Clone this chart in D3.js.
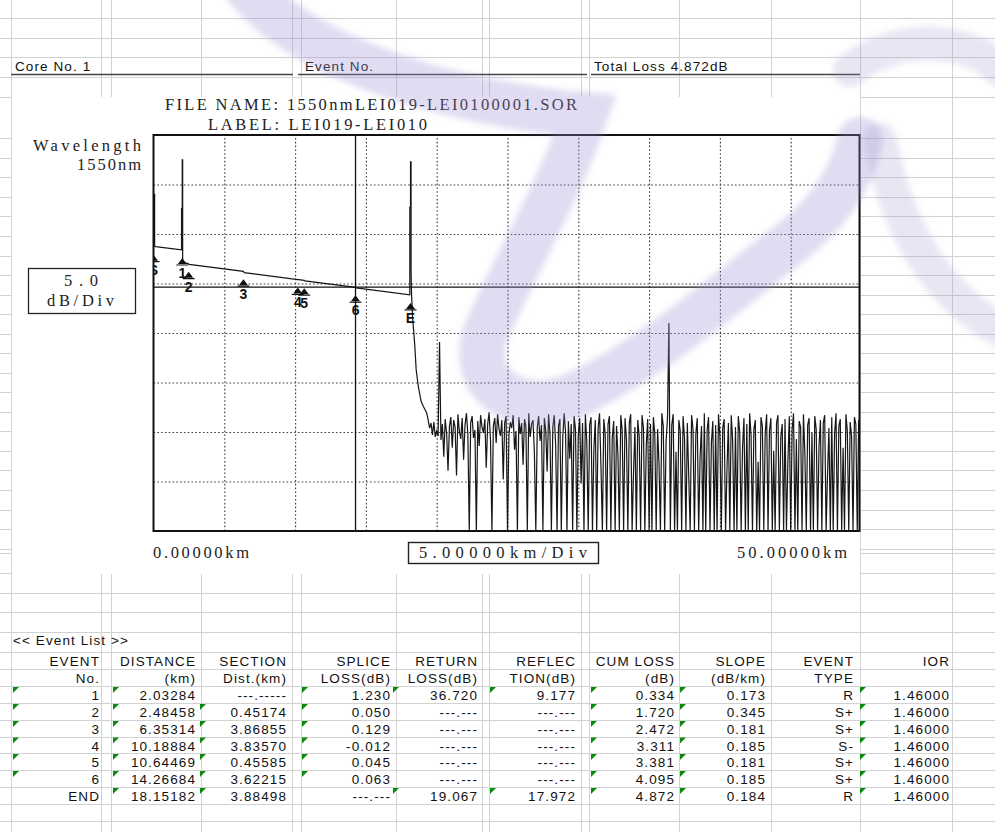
<!DOCTYPE html>
<html><head><meta charset="utf-8">
<script src="https://cdn.jsdelivr.net/npm/d3@7"></script>
<style>
html,body{margin:0;padding:0;background:#fff;}
svg{display:block;}
</style></head><body>
<svg id="sheet" width="995" height="832"></svg>
<script>
// ---------- header ----------
const coreNo = "Core No. 1";
const eventNoTitle = "Event No.";
const totalLoss = "Total Loss 4.872dB";
const fileName = "FILE NAME: 1550nmLEI019-LEI0100001.SOR";
const labelText = "LABEL: LEI019-LEI010";
const wavelengthLines = ["Wavelength", "1550nm"];
const dbPerDivLines = ["5.0", "dB/Div"];
const xAxisTexts = ["0.00000km", "5.00000km/Div", "50.00000km"];

// ---------- trace scales ----------
const kmDomain = [0, 50];
const kmTicks = [5, 10, 15, 20, 25, 30, 35, 40, 45, 50];
const dbDomain = [0, 40];
const dbTicks = [5, 10, 15, 20, 25, 30, 35];

// ---------- OTDR trace over the fibre (km, relative level dB) ----------
const fiberKm = [0, 0, 0.08, 0.08, 0.15, 1.0, 1.98, 1.98, 2.03, 2.03, 2.06, 2.06, 2.48, 2.52,
  6.35, 6.40, 10.19, 10.24, 10.64, 10.69, 14.27, 14.32, 18.10, 18.10, 18.15, 18.15, 18.19, 18.19,
  18.22, 18.30, 18.45, 18.55, 18.70, 18.90, 19.05, 19.20];
const fiberDb = [28.72, 34.0, 34.0, 28.75, 28.72, 28.57, 28.39, 32.6, 32.6, 37.5, 37.5, 27.16, 26.98, 26.93,
  26.23, 26.10, 25.39, 25.40, 25.32, 25.27, 24.61, 24.55, 23.85, 32.7, 32.7, 37.3, 37.3, 26.4,
  24.0, 21.5, 18.8, 16.3, 14.6, 13.1, 12.6, 12.2];

// ---------- noise floor past the fibre end, one reading every 0.1 km ----------
const noiseStartKm = 19.3;
const noiseStepKm = 0.1;
const noiseDb = [
  11.9, 11.2, 10.4, 10.9, 9.7, 11.0, 9.5, 10.1, 9.6, 19.1,
  9.2, 10.8, 7.5, 11.3, 9.9, 6.1, 10.6, 11.5, 8.4, 11.2,
  10.5, 5.6, 11.8, 10.1, 9.3, 11.4, 7.2, 10.7, 11.9, 9.8,
  0, 10.9, 11.6, 9.4, 10.2, 0, 11.1, 8.6, 11.7, 10.5,
  9.9, 11.3, 6.4, 10.8, 12.0, 9.2, 0, 10.6, 11.4, 8.9,
  11.8, 10.3, 9.6, 11.2, 5.2, 10.9, 11.6, 0, 9.7, 11.0,
  10.4, 11.7, 8.2, 10.1, 0, 11.5, 9.8, 10.9, 6.7, 11.3,
  10.6, 0, 11.9, 9.5, 10.8, 11.2, 7.9, 0, 10.4, 11.6,
  9.1, 10.7, 0, 11.4, 10.2, 6.0, 11.8, 9.9, 0, 10.5,
  11.7, 8.8, 0, 10.6, 11.3, 0, 9.4, 11.9, 10.0, 0,
  11.1, 7.3, 10.8, 0, 11.6, 10.3, 0, 9.7, 11.4, 4.8,
  10.9, 0, 11.8, 9.0, 0, 10.7, 11.5, 0, 8.3, 11.2,
  0, 10.4, 11.9, 6.6, 0, 11.3, 9.8, 0, 10.8, 11.6,
  0, 9.5, 11.1, 0, 10.6, 7.7, 0, 11.7, 10.2, 0,
  11.4, 9.3, 0, 10.9, 11.8, 0, 5.9, 10.5, 0, 11.2,
  9.6, 0, 11.7, 10.4, 0, 8.7, 11.3, 0, 10.8, 0,
  11.5, 9.9, 0, 10.3, 6.8, 0, 11.9, 10.6, 0, 9.1,
  11.4, 21.0, 0, 10.7, 11.8, 0, 8.0, 0, 11.2, 10.1,
  0, 11.6, 9.4, 0, 10.9, 5.5, 0, 11.7, 10.3, 0,
  9.8, 11.4, 0, 7.4, 10.6, 0, 11.9, 0, 10.2, 11.5,
  0, 8.9, 11.1, 0, 10.7, 0, 11.8, 9.6, 0, 10.4,
  11.3, 0, 6.3, 10.9, 0, 11.7, 9.2, 0, 10.5, 0,
  11.6, 10.0, 0, 8.5, 11.4, 0, 10.8, 0, 11.9, 9.7,
  0, 10.3, 11.2, 0, 7.0, 0, 11.5, 10.6, 0, 9.9,
  11.8, 0, 10.1, 11.4, 0, 8.1, 0, 10.9, 11.7, 0,
  9.5, 10.8, 0, 11.3, 0, 6.9, 11.6, 0, 10.2, 11.9,
  0, 9.3, 0, 11.1, 10.5, 0, 11.8, 7.8, 0, 10.7,
  11.4, 0, 9.9, 0, 11.6, 10.3, 0, 8.6, 11.2, 0,
  10.9, 11.7, 0, 5.7, 10.4, 0, 11.5, 0, 9.8, 11.9,
  0, 10.6, 11.3, 0, 8.4, 0, 11.8, 10.1, 0, 11.0,
  9.6, 0, 11.5, 10.8, 0, 11.2
];

// ---------- event list ----------
const eventNo     = ["1", "2", "3", "4", "5", "6", "END"];
const distanceKm  = ["2.03284", "2.48458", "6.35314", "10.18884", "10.64469", "14.26684", "18.15182"];
const sectionKm   = ["---.-----", "0.45174", "3.86855", "3.83570", "0.45585", "3.62215", "3.88498"];
const spliceLoss  = ["1.230", "0.050", "0.129", "-0.012", "0.045", "0.063", "---.---"];
const returnLoss  = ["36.720", "---.---", "---.---", "---.---", "---.---", "---.---", "19.067"];
const reflection  = ["9.177", "---.---", "---.---", "---.---", "---.---", "---.---", "17.972"];
const cumLoss     = ["0.334", "1.720", "2.472", "3.311", "3.381", "4.095", "4.872"];
const slope       = ["0.173", "0.345", "0.181", "0.185", "0.181", "0.185", "0.184"];
const eventType   = ["R", "S+", "S+", "S-", "S+", "S+", "R"];
const ior         = ["1.46000", "1.46000", "1.46000", "1.46000", "1.46000", "1.46000", "1.46000"];
const headerTop    = ["EVENT", "DISTANCE", "SECTION", "SPLICE", "RETURN", "REFLEC", "CUM LOSS", "SLOPE", "EVENT", "IOR"];
const headerBottom = ["No.", "(km)", "Dist.(km)", "LOSS(dB)", "LOSS(dB)", "TION(dB)", "(dB)", "(dB/km)", "TYPE", ""];
const eventListTitle = "<< Event List >>";
// cells carrying the spreadsheet's green "number stored as text" flag, per row
const flaggedCells = [
  [0, 1, 3, 4, 5, 6, 7, 9],
  [0, 1, 2, 3, 6, 7, 9],
  [0, 1, 2, 3, 6, 7, 9],
  [0, 1, 2, 3, 6, 7, 9],
  [0, 1, 2, 3, 6, 7, 9],
  [0, 1, 2, 3, 6, 7, 9],
  [1, 2, 4, 5, 6, 7, 9]
];
// trace markers: launch (S), numbered events and fibre end (E)
const markerLabels = ["S", "1", "2", "3", "4", "5", "6", "E"];
const launchLevelDb = 28.72;

// ======================================================================
const svg = d3.select("#sheet");
svg.append("rect").attr("width", 995).attr("height", 832).attr("fill", "#fff");

// ---------- spreadsheet cell grid ----------
const gridColor = "#d2d2d2";
const colLines = [11, 101, 111, 201, 292, 301, 396, 482, 489, 581, 589, 679, 771, 860, 952];
const rowLines = [18, 38, 57, 77, 97];
for (let y = 138.3; y < 560; y += 19.54) rowLines.push(y);
[553, 573, 593, 612, 632, 652, 669, 686, 703, 720, 736.5, 753, 770, 787, 804, 821].forEach(v => rowLines.push(v));
const sheetG = svg.append("g");
sheetG.selectAll("line.c").data(colLines).join("line")
  .attr("x1", d => d + 0.5).attr("x2", d => d + 0.5).attr("y1", 0).attr("y2", 832)
  .attr("stroke", gridColor).attr("stroke-width", 1);
sheetG.selectAll("line.r").data(rowLines).join("line")
  .attr("x1", 0).attr("x2", 995).attr("y1", d => Math.round(d) + 0.5).attr("y2", d => Math.round(d) + 0.5)
  .attr("stroke", gridColor).attr("stroke-width", 1);

// header underlines
const ul = svg.append("g").attr("stroke", "#444").attr("stroke-width", 1.4);
[[11, 293], [298, 587], [591, 860]].forEach(s =>
  ul.append("line").attr("x1", s[0]).attr("x2", s[1]).attr("y1", 74.5).attr("y2", 74.5));

const cellFont = "'Liberation Sans', Arial, sans-serif";
const hdr = svg.append("g").attr("font-family", cellFont).attr("font-size", 13.5)
  .attr("letter-spacing", 1.1).attr("fill", "#111");
hdr.append("text").attr("x", 15).attr("y", 71).text(coreNo);
hdr.append("text").attr("x", 305).attr("y", 71).text(eventNoTitle);
hdr.append("text").attr("x", 594).attr("y", 71).text(totalLoss);

// white picture area that hides the cell grid behind the trace report
svg.append("rect").attr("x", 12).attr("y", 97).attr("width", 848).attr("height", 477).attr("fill", "#fff");

// ---------- trace plot ----------
const plot = { left: 153.5, top: 135, width: 706, height: 396 };
const x = d3.scaleLinear().domain(kmDomain).range([plot.left, plot.left + 50 * 14.16]);
const y = d3.scaleLinear().domain(dbDomain).range([plot.top + plot.height, plot.top]);

const defs = svg.append("defs");
defs.append("clipPath").attr("id", "plotClip").append("rect")
  .attr("x", plot.left).attr("y", plot.top).attr("width", plot.width).attr("height", plot.height);
defs.append("filter").attr("id", "soft").append("feGaussianBlur").attr("stdDeviation", 3);

const chart = svg.append("g");
const inner = chart.append("g").attr("clip-path", "url(#plotClip)");

// dotted divisions
inner.append("g").attr("transform", `translate(0,${plot.top + plot.height})`)
  .call(d3.axisBottom(x).tickValues(kmTicks).tickSize(-plot.height).tickFormat(""))
  .call(g => g.select(".domain").remove())
  .call(g => g.selectAll(".tick line").attr("stroke", "#3a3a3a").attr("stroke-dasharray", "1.6,2.2").attr("stroke-width", 1.1));
inner.append("g").attr("transform", `translate(${plot.left},0)`)
  .call(d3.axisLeft(y).tickValues(dbTicks).tickSize(-plot.width).tickFormat(""))
  .call(g => g.select(".domain").remove())
  .call(g => g.selectAll(".tick line").attr("stroke", "#3a3a3a").attr("stroke-dasharray", "1.6,2.2").attr("stroke-width", 1.1));

// trace
const tracePts = fiberKm.map((k, i) => [k, fiberDb[i]])
  .concat(noiseDb.map((v, i) => [noiseStartKm + i * noiseStepKm, v]));
const line = d3.line().x(d => x(d[0])).y(d => y(Math.max(d[1], dbDomain[0])));
inner.append("path").datum(tracePts).attr("d", line)
  .attr("fill", "none").attr("stroke", "#161616").attr("stroke-width", 1.2).attr("stroke-linejoin", "miter");

// cursor on event 6
const cursorKm = +distanceKm[5];
const cursorDb = launchLevelDb - +cumLoss[5];
inner.append("line").attr("x1", x(cursorKm)).attr("x2", x(cursorKm)).attr("y1", plot.top).attr("y2", plot.top + plot.height)
  .attr("stroke", "#111").attr("stroke-width", 1.3);
inner.append("line").attr("x1", plot.left).attr("x2", plot.left + plot.width).attr("y1", y(cursorDb)).attr("y2", y(cursorDb))
  .attr("stroke", "#111").attr("stroke-width", 1.3);

// event markers
const markerKm = [0].concat(distanceKm.map(Number));
const markerDb = [launchLevelDb].concat(cumLoss.map(c => launchLevelDb - +c));
const mk = inner.selectAll("g.mk").data(markerLabels).join("g")
  .attr("transform", (d, i) => `translate(${x(markerKm[i])},${y(markerDb[i]) + 8})`);
mk.append("path").attr("d", "M0,0 L4.5,6 L-4.5,6 Z").attr("fill", "#111");
mk.append("line").attr("x1", -6).attr("x2", 6).attr("y1", 7).attr("y2", 7).attr("stroke", "#111").attr("stroke-width", 1.2);
mk.append("text").attr("y", 20).attr("text-anchor", "middle")
  .attr("font-family", "'Liberation Sans', Arial, sans-serif").attr("font-weight", "bold").attr("font-size", 14)
  .attr("fill", "#111").text(d => d);

// frame
chart.append("rect").attr("x", plot.left).attr("y", plot.top).attr("width", plot.width).attr("height", plot.height)
  .attr("fill", "none").attr("stroke", "#111").attr("stroke-width", 2);

// ---------- report texts ----------
svg.append("rect").attr("x", 28.5).attr("y", 268.5).attr("width", 107).attr("height", 45)
  .attr("fill", "#fff").attr("stroke", "#222").attr("stroke-width", 1.3);
svg.append("rect").attr("x", 408.5).attr("y", 542.5).attr("width", 190).attr("height", 21)
  .attr("fill", "#fff").attr("stroke", "#222").attr("stroke-width", 1.4);

const repFont = "'Liberation Serif', 'DejaVu Serif', serif";
const rep = svg.append("g").attr("font-family", repFont).attr("font-size", 16.5).attr("fill", "#222");
const fitText = (str, x0, yb, len) => rep.append("text").attr("x", x0).attr("y", yb)
  .attr("textLength", len).attr("lengthAdjust", "spacing").text(str);
fitText(fileName, 165, 110, 412);
fitText(labelText, 208, 130, 219);
fitText(wavelengthLines[0], 33, 151, 108);
fitText(wavelengthLines[1], 77, 170, 64);
fitText(dbPerDivLines[0], 64, 286, 34);
fitText(dbPerDivLines[1], 47, 306, 67);
fitText(xAxisTexts[0], 153, 558, 96);
fitText(xAxisTexts[1], 419, 558, 168);
fitText(xAxisTexts[2], 737, 558, 110);

// ---------- event list table ----------
const colRight = [100, 196, 287, 391, 478, 576, 675, 766, 854, 950];
const flagX = [13, 113, 200, 302, 393, 490, 591, 680, 0, 860];
const rowTop = [686, 703, 720, 736.5, 753, 770, 787];
const columns = [eventNo, distanceKm, sectionKm, spliceLoss, returnLoss, reflection, cumLoss, slope, eventType, ior];

const tbl = svg.append("g").attr("font-family", cellFont).attr("font-size", 13.5)
  .attr("letter-spacing", 1.1).attr("fill", "#111");
tbl.append("text").attr("x", 13).attr("y", 645).text(eventListTitle);
headerTop.forEach((h, c) => tbl.append("text").attr("x", colRight[c]).attr("y", 666).attr("text-anchor", "end").text(h));
headerBottom.forEach((h, c) => tbl.append("text").attr("x", colRight[c]).attr("y", 683).attr("text-anchor", "end").text(h));
columns.forEach((col, c) => {
  tbl.selectAll(null).data(col).join("text")
    .attr("x", colRight[c]).attr("y", (d, r) => rowTop[r] + 14).attr("text-anchor", "end").text(d => d);
});
const flags = svg.append("g").attr("fill", "#0a8a0a");
flaggedCells.forEach((cells, r) => cells.forEach(c => {
  const fx = flagX[c], fy = rowTop[r] + 1;
  flags.append("path").attr("d", `M${fx},${fy} L${fx + 6},${fy} L${fx},${fy + 6} Z`);
}));

// ---------- translucent logo swash printed over the sheet ----------
const swash = svg.append("g").attr("fill", "none").attr("stroke", "#9a8ccf")
  .attr("stroke-linecap", "round").attr("filter", "url(#soft)").style("pointer-events", "none");
swash.append("path").attr("stroke-width", 46).attr("stroke-opacity", 0.3)
  .attr("d", "M245,-15 C300,60 460,105 585,115 C560,190 515,265 487,330 C465,385 520,420 575,395 C650,360 730,290 800,235 C832,208 852,175 860,140");
swash.append("path").attr("stroke-width", 34).attr("stroke-opacity", 0.22)
  .attr("d", "M850,70 C900,30 975,40 1000,70");
swash.append("path").attr("stroke-width", 34).attr("stroke-opacity", 0.22)
  .attr("d", "M880,140 C895,220 930,290 1000,330");
</script>
</body></html>
